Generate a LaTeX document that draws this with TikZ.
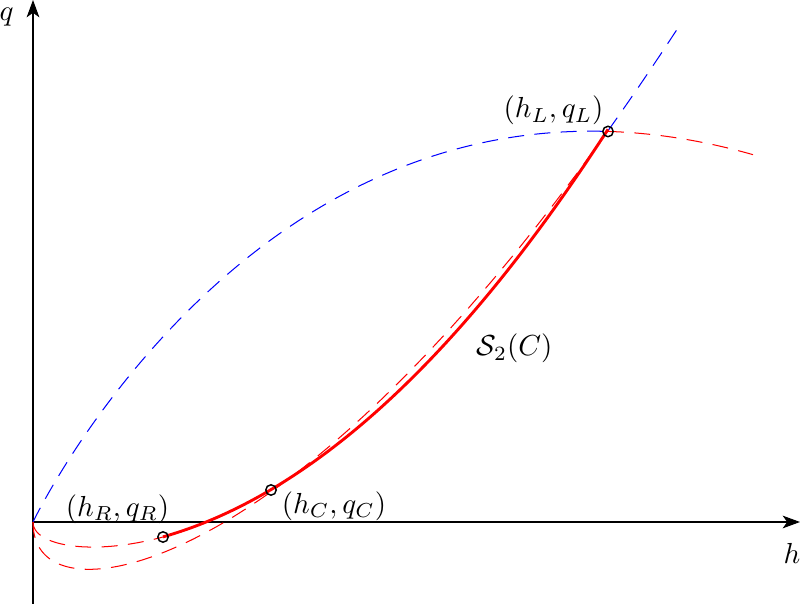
\documentclass[tikz,border=0pt]{standalone}
\usetikzlibrary{arrows.meta}
\begin{document}
\begin{tikzpicture}[x=0.345pt,y=-0.345pt,
  axis/.style={line width=0.35pt, -{Stealth[length=6pt,width=4.4pt,inset=1.6pt]}},
  curvedash/.style={line width=0.35pt, dash pattern=on 5.5pt off 3.6pt},
  ptmark/.style={circle, draw, line width=0.5pt, inner sep=0pt, minimum size=3.6pt},
  lbl/.style={inner sep=0pt, anchor=base}]
\useasboundingbox (0,0) rectangle (800,604);
% axes
\coordinate (O) at (33,522);
\coordinate (hend) at (800,522);
\coordinate (qstart) at (33,604);
\coordinate (qend) at (33,0);
\draw[axis] (O) -- (hend);
\draw[axis] (qstart) -- (qend);
\node[lbl] (hlab) at (792,563) {$h$};
\node[lbl] (qlab) at (6.5,20.5) {$q$};
% concave curve: blue up to L, red beyond
\draw[curvedash, blue] plot[domain=0:23.979, samples=120, variable=\t]
  ({33+\t*\t}, {522-(2.1*\t*\t-0.05925*\t*\t*\t)});
\draw[curvedash, red] plot[domain=23.979:26.833, samples=30, variable=\t]
  ({33+\t*\t}, {522-(2.1*\t*\t-0.05925*\t*\t*\t)});
% convex curve through C: red up to L, blue beyond
\draw[curvedash, red] plot[domain=0:23.979, samples=150, variable=\t]
  ({33+\t*\t}, {522-(-11.943*\t+0.705*\t*\t+0.0008207*\t*\t*\t*\t)});
\draw[curvedash, blue] plot[domain=23.979:25.377, samples=20, variable=\t]
  ({33+\t*\t}, {522-(-11.943*\t+0.705*\t*\t+0.0008207*\t*\t*\t*\t)});
% curve through R
\draw[curvedash, red] plot[domain=0:11.402, samples=60, variable=\t]
  ({33+\t*\t}, {522-(-5.499*\t+0.228*\t*\t+0.001069*\t*\t*\t*\t)});
% S2(C)
\draw[red, line width=1pt] plot[domain=130:575, samples=100, variable=\x]
  ({33+\x}, {522-(-27.87-0.0846*\x+0.0014126*\x*\x)});
% points
\node[ptmark] (R) at (163,537) {};
\node[ptmark] (C) at (271,490) {};
\node[ptmark] (L) at (608,131.5) {};
% labels
\node[lbl] (Llab) at (553.5,117.7) {$(h_L,q_L)$};
\node[lbl] (Rlab) at (117.5,516) {$(h_R,q_R)$};
\node[lbl] (Clab) at (334,513) {$(h_C,q_C)$};
\node[lbl] (Slab) at (514.5,356) {$\mathcal{S}_2(C)$};
\end{tikzpicture}
\end{document}
